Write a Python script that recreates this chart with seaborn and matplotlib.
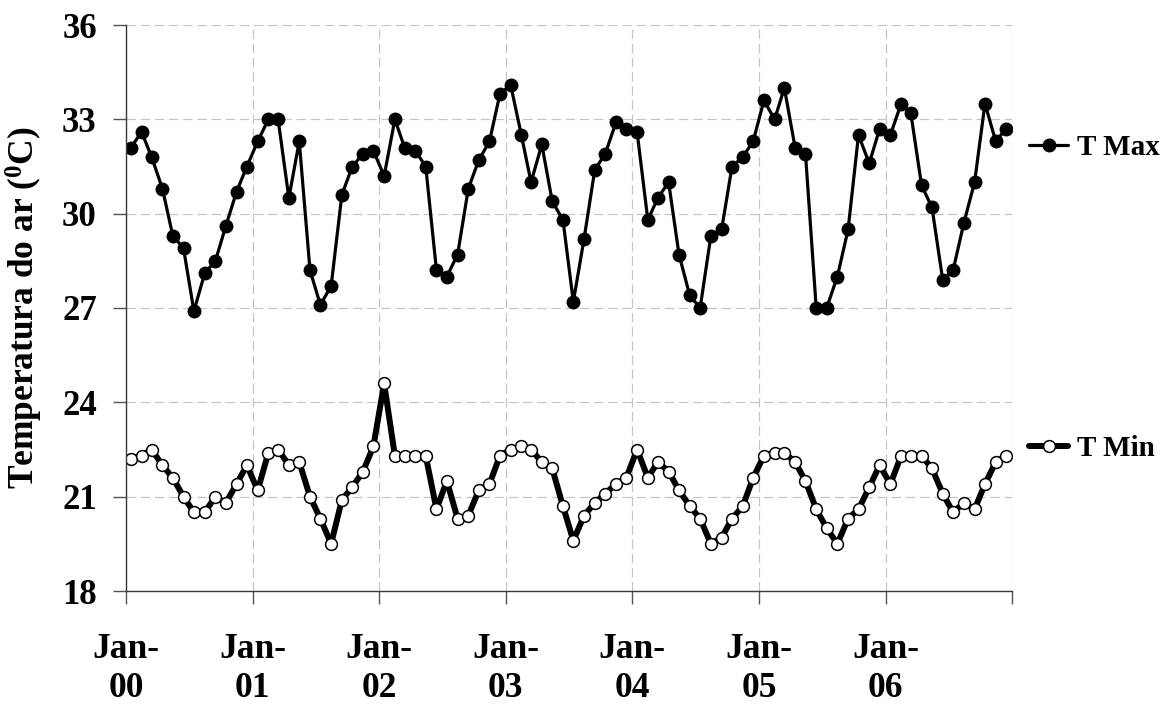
import matplotlib
matplotlib.use("Agg")
import matplotlib.pyplot as plt
import seaborn as sns
import pandas as pd
import numpy as np

# Monthly mean air temperature, Jan 2000 - Dec 2006 (plotted mid-month)
months = pd.date_range("2000-01-01", periods=84, freq="MS") + pd.Timedelta(days=14)

t_max = [
    32.1, 32.6, 31.8, 30.8, 29.3, 28.9, 26.9, 28.1, 28.5, 29.6, 30.7, 31.5,   # 2000
    32.3, 33.0, 33.0, 30.5, 32.3, 28.2, 27.1, 27.7, 30.6, 31.5, 31.9, 32.0,   # 2001
    31.2, 33.0, 32.1, 32.0, 31.5, 28.2, 28.0, 28.7, 30.8, 31.7, 32.3, 33.8,   # 2002
    34.1, 32.5, 31.0, 32.2, 30.4, 29.8, 27.2, 29.2, 31.4, 31.9, 32.9, 32.7,   # 2003
    32.6, 29.8, 30.5, 31.0, 28.7, 27.4, 27.0, 29.3, 29.5, 31.5, 31.8, 32.3,   # 2004
    33.6, 33.0, 34.0, 32.1, 31.9, 27.0, 27.0, 28.0, 29.5, 32.5, 31.6, 32.7,   # 2005
    32.5, 33.5, 33.2, 30.9, 30.2, 27.9, 28.2, 29.7, 31.0, 33.5, 32.3, 32.7,   # 2006
]

t_min = [
    22.2, 22.3, 22.5, 22.0, 21.6, 21.0, 20.5, 20.5, 21.0, 20.8, 21.4, 22.0,   # 2000
    21.2, 22.4, 22.5, 22.0, 22.1, 21.0, 20.3, 19.5, 20.9, 21.3, 21.8, 22.6,   # 2001
    24.6, 22.3, 22.3, 22.3, 22.3, 20.6, 21.5, 20.3, 20.4, 21.2, 21.4, 22.3,   # 2002
    22.5, 22.6, 22.5, 22.1, 21.9, 20.7, 19.6, 20.4, 20.8, 21.1, 21.4, 21.6,   # 2003
    22.5, 21.6, 22.1, 21.8, 21.2, 20.7, 20.3, 19.5, 19.7, 20.3, 20.7, 21.6,   # 2004
    22.3, 22.4, 22.4, 22.1, 21.5, 20.6, 20.0, 19.5, 20.3, 20.6, 21.3, 22.0,   # 2005
    21.4, 22.3, 22.3, 22.3, 21.9, 21.1, 20.5, 20.8, 20.6, 21.4, 22.1, 22.3,   # 2006
]

year_ticks = pd.date_range("2000-01-01", "2007-01-01", freq="YS")
year_labels = ["Jan-\n00", "Jan-\n01", "Jan-\n02", "Jan-\n03",
               "Jan-\n04", "Jan-\n05", "Jan-\n06", ""]
y_ticks = [18, 21, 24, 27, 30, 33, 36]

sns.set_theme(style="white")
plt.rcParams["font.family"] = ["Liberation Serif", "DejaVu Serif"]
plt.rcParams["font.weight"] = "bold"
plt.rcParams["text.color"] = "black"
plt.rcParams["axes.labelcolor"] = "black"
plt.rcParams["xtick.color"] = "black"
plt.rcParams["ytick.color"] = "black"
plt.rcParams["mathtext.fontset"] = "custom"
plt.rcParams["mathtext.rm"] = "Liberation Serif"
plt.rcParams["mathtext.bf"] = "Liberation Serif:bold"
plt.rcParams["mathtext.it"] = "Liberation Serif:italic"

fig = plt.figure(figsize=(11.69, 7.08), dpi=100)
ax = fig.add_axes([126 / 1169, 1 - 591 / 708, (1012 - 126) / 1169, (591 - 25) / 708])

sns.lineplot(x=months, y=t_max, ax=ax, color="black", linewidth=2.3,
             marker="o", markersize=9, markerfacecolor="black",
             markeredgecolor="black", markeredgewidth=1.0, label="T Max",
             legend=False)
sns.lineplot(x=months, y=t_min, ax=ax, color="black", linewidth=4.3,
             marker="o", markersize=8.5, markerfacecolor="white",
             markeredgecolor="black", markeredgewidth=1.1, label="T Min",
             legend=False)

ax.set_xlim(year_ticks[0], year_ticks[-1])
ax.set_ylim(18, 36)
ax.set_xticks(year_ticks)
ax.set_xticklabels(year_labels, fontsize=25.5, fontweight="bold",
                   linespacing=1.25, color="black")
ax.set_yticks(y_ticks)
ax.set_yticklabels([str(v) for v in y_ticks], fontsize=25, fontweight="bold",
                   color="black")

ax.set_xlabel("")
ax.set_ylabel(r"Temperatura do ar ($^{\mathbf{0}}$C)", fontsize=25.5,
              fontweight="bold", labelpad=12, color="black")

ax.grid(True, color="#c4c4c4", linestyle=(0, (8, 4)), linewidth=0.85)
for side in ("top", "right"):
    ax.spines[side].set_visible(False)
for side in ("left", "bottom"):
    ax.spines[side].set_color("#3a3a3a")
    ax.spines[side].set_linewidth(1.0)

ax.tick_params(axis="y", direction="out", length=9.5, width=1.0,
               color="#555555", labelcolor="black", pad=11.5, left=True)
ax.tick_params(axis="x", direction="out", length=9, width=1.0,
               color="#555555", labelcolor="black", pad=21, bottom=True)

# one legend entry beside the end of each series
handles = ax.get_lines()
legend_font = {"family": "Liberation Serif", "weight": "bold", "size": 21}
leg_max = ax.legend([handles[0]], ["T Max"], loc="center left",
                    bbox_to_anchor=(1.019, 0.784), frameon=False,
                    borderpad=0, borderaxespad=0, handlelength=1.35,
                    handletextpad=0.3, numpoints=1, prop=legend_font,
                    labelcolor="black")
ax.add_artist(leg_max)
ax.legend([handles[1]], ["T Min"], loc="center left",
          bbox_to_anchor=(1.019, 0.251), frameon=False,
          borderpad=0, borderaxespad=0, handlelength=1.35,
          handletextpad=0.3, numpoints=1, prop=legend_font,
          labelcolor="black")

fig.savefig("out.png", dpi=100)
